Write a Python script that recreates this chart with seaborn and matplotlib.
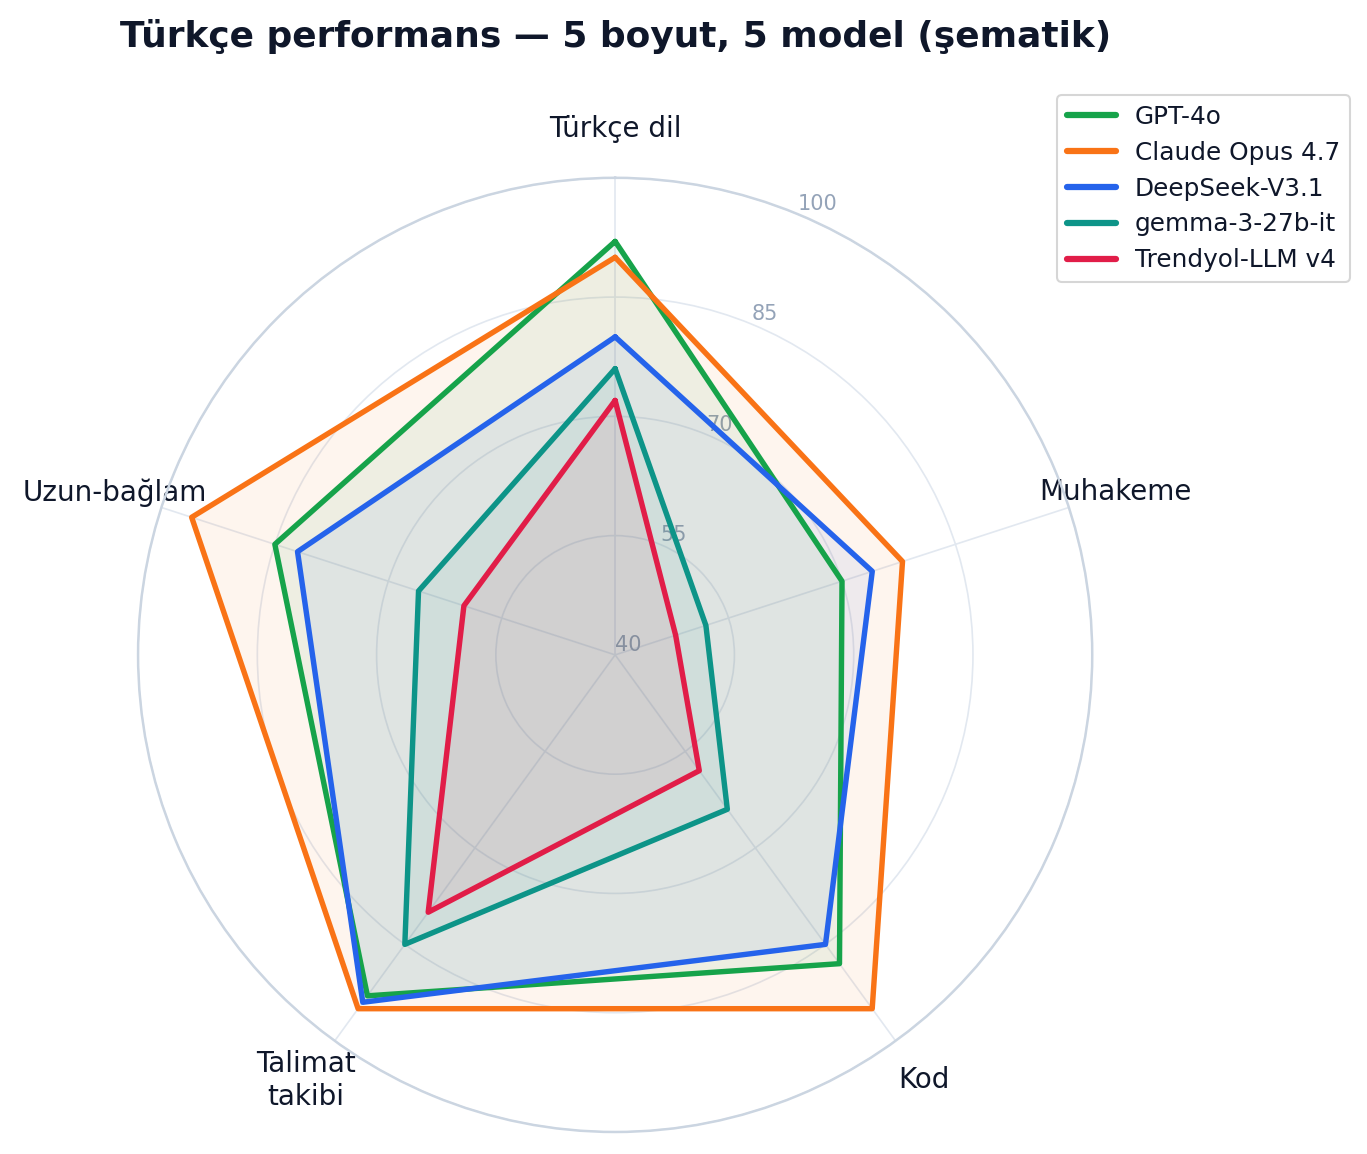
import numpy as np
import pandas as pd
import matplotlib
matplotlib.use("Agg")
import matplotlib.pyplot as plt
import seaborn as sns

# radar chart: Turkish performance, 5 dimensions x 5 models (schematic)
categories = ["Türkçe dil", "Muhakeme", "Kod", "Talimat\ntakibi", "Uzun-bağlam"]
models = ["GPT-4o", "Claude Opus 4.7", "DeepSeek-V3.1", "gemma-3-27b-it", "Trendyol-LLM v4"]
gpt4o = [92, 70, 88, 93, 85]
claude = [90, 78, 95, 95, 96]
deepseek = [80, 74, 85, 94, 82]
gemma = [76, 52, 64, 85, 66]
trendyol = [72, 48, 58, 80, 60]
colors = ["#16a34a", "#f97316", "#2563eb", "#0d9488", "#e11d48"]
rticks = [40, 55, 70, 85, 100]

scores = [gpt4o, claude, deepseek, gemma, trendyol]
angles = np.linspace(0, 2 * np.pi, len(categories), endpoint=False)

rows = []
for name, vals in zip(models, scores):
    closed = list(vals) + [vals[0]]
    th = list(angles) + [angles[0]]
    for t, v in zip(th, closed):
        rows.append({"model": name, "theta": t, "score": v})
df = pd.DataFrame(rows)

sns.set_style("white")
plt.rcParams["font.family"] = ["DejaVu Sans"]

fig = plt.figure(figsize=(1367 / 150, 1154 / 150), dpi=150)
ax = fig.add_axes([0.101, 0.019, 0.698, 0.827], polar=True)
ax.set_theta_offset(np.pi / 2)
ax.set_theta_direction(-1)

sns.lineplot(data=df, x="theta", y="score", hue="model", hue_order=models,
             palette=colors, sort=False, estimator=None, lw=2.6, ax=ax)
for name, vals, c in zip(models, scores, colors):
    ax.fill(list(angles) + [angles[0]], list(vals) + [vals[0]], color=c, alpha=0.07, lw=0)

ax.set_ylim(40, 100)
ax.set_yticks(rticks)
ax.set_yticklabels([str(t) for t in rticks], fontsize=10, color="#94a3b8")
ax.set_rlabel_position(22.5)
ax.set_xticks(angles)
ax.set_xticklabels(categories, fontsize=13.3, color="#0f172a")
ax.tick_params(axis="x", pad=13)
ax.set_xlabel("")
ax.set_ylabel("")
ax.grid(color="#e2e8f0", lw=0.8)
ax.spines["polar"].set_color("#cbd5e1")
ax.spines["polar"].set_linewidth(1.2)

handles, labels = ax.get_legend_handles_labels()
leg = ax.legend(handles, labels, loc="upper right", bbox_to_anchor=(1.283, 1.10),
                fontsize=11.9, frameon=True, labelcolor="#0f172a", labelspacing=0.48,
                handlelength=2.0, handletextpad=0.75)
for h in leg.get_lines():
    h.set_linewidth(3)

fig.text(0.45, 0.968, "Türkçe performans — 5 boyut, 5 model (şematik)",
         ha="center", va="center", fontsize=17.3, fontweight="bold", color="#0f172a")

fig.savefig("out.png", dpi=150)
